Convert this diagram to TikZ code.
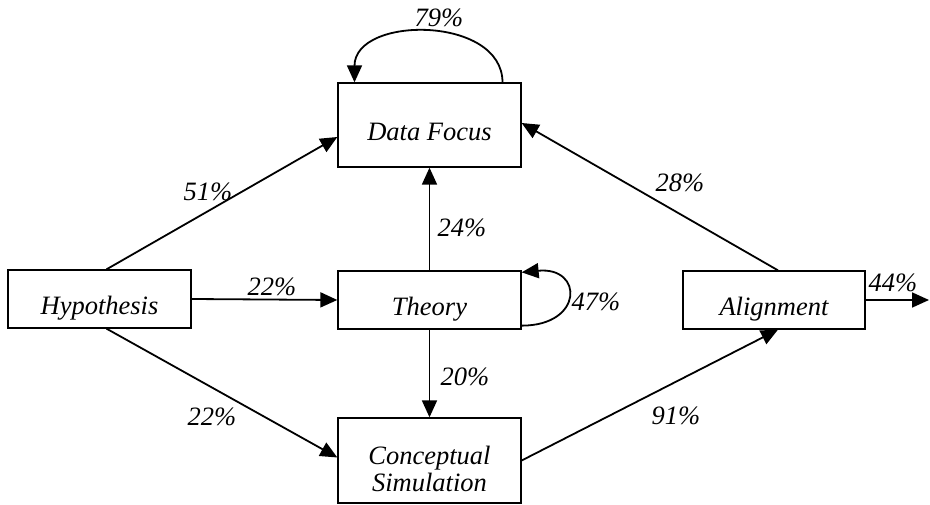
\documentclass[tikz,border=0pt]{standalone}
\usepackage{fontspec}
\setmainfont{Liberation Serif}
\usepackage{tikz}
\usetikzlibrary{arrows.meta}
\tikzset{
  box/.style={draw, line width=1.3pt, minimum width=183pt, minimum height=58pt, inner sep=0pt, align=center, text height=34pt, text depth=2pt},
  flow/.style={line width=1.8pt, -{Triangle[length=17pt,width=15pt]}},
  pct/.style={inner sep=0pt}
}

\begin{document}
\begin{tikzpicture}[x=1pt,y=1pt,font=\fontsize{26.5}{27}\selectfont\itshape]
\useasboundingbox (0,0) rectangle (930,504);
\node[box] (hyp) at (99.5,205) {Hypothesis};
\node[box] (theory) at (429.5,204) {Theory};
\node[box, minimum height=84pt] (data) at (429.5,379) {Data Focus};
\node[box, minimum height=85pt, text height=63pt, text depth=2pt] (concept) at (429.5,43.5) {Conceptual\\Simulation};
\node[box, minimum width=182pt] (align) at (774,204) {Alignment};
\coordinate (out) at (929,204);

\draw[flow] ([xshift=7pt]hyp.north) -- ([yshift=-12pt]data.west);
\draw[flow] (hyp.east) -- (theory.west);
\draw[flow] ([xshift=7pt]hyp.south) -- ([yshift=3pt]concept.west);
\draw[flow] (theory.north) -- (data.south);
\draw[flow] (theory.south) -- (concept.north);
\draw[flow] (concept.east) -- ([xshift=4pt]align.south);
\draw[flow] ([xshift=4pt]align.north) -- ([yshift=2pt]data.east);
\draw[flow] (align.east) -- (out);
\draw[flow] ([xshift=73pt]data.north) .. controls +(0,67) and +(0,67) .. ([xshift=-75pt]data.north);
\draw[flow] ([yshift=4pt]theory.south east) .. controls +(62,0) and +(62,6) .. ([yshift=-2pt]theory.north east);

\foreach \n/\x/\y/\t in {p79/439/486/79, p51/208/312/51, p22a/272/217/22, p22b/212/87/22, p24/462/276/24,
    p20/465/127/20, p47/596/202/47, p28/680/321/28, p91/676/88/91, p44/893/221/44}
    \node[pct] (\n) at (\x,\y) {\t\%};
\end{tikzpicture}
\end{document}
